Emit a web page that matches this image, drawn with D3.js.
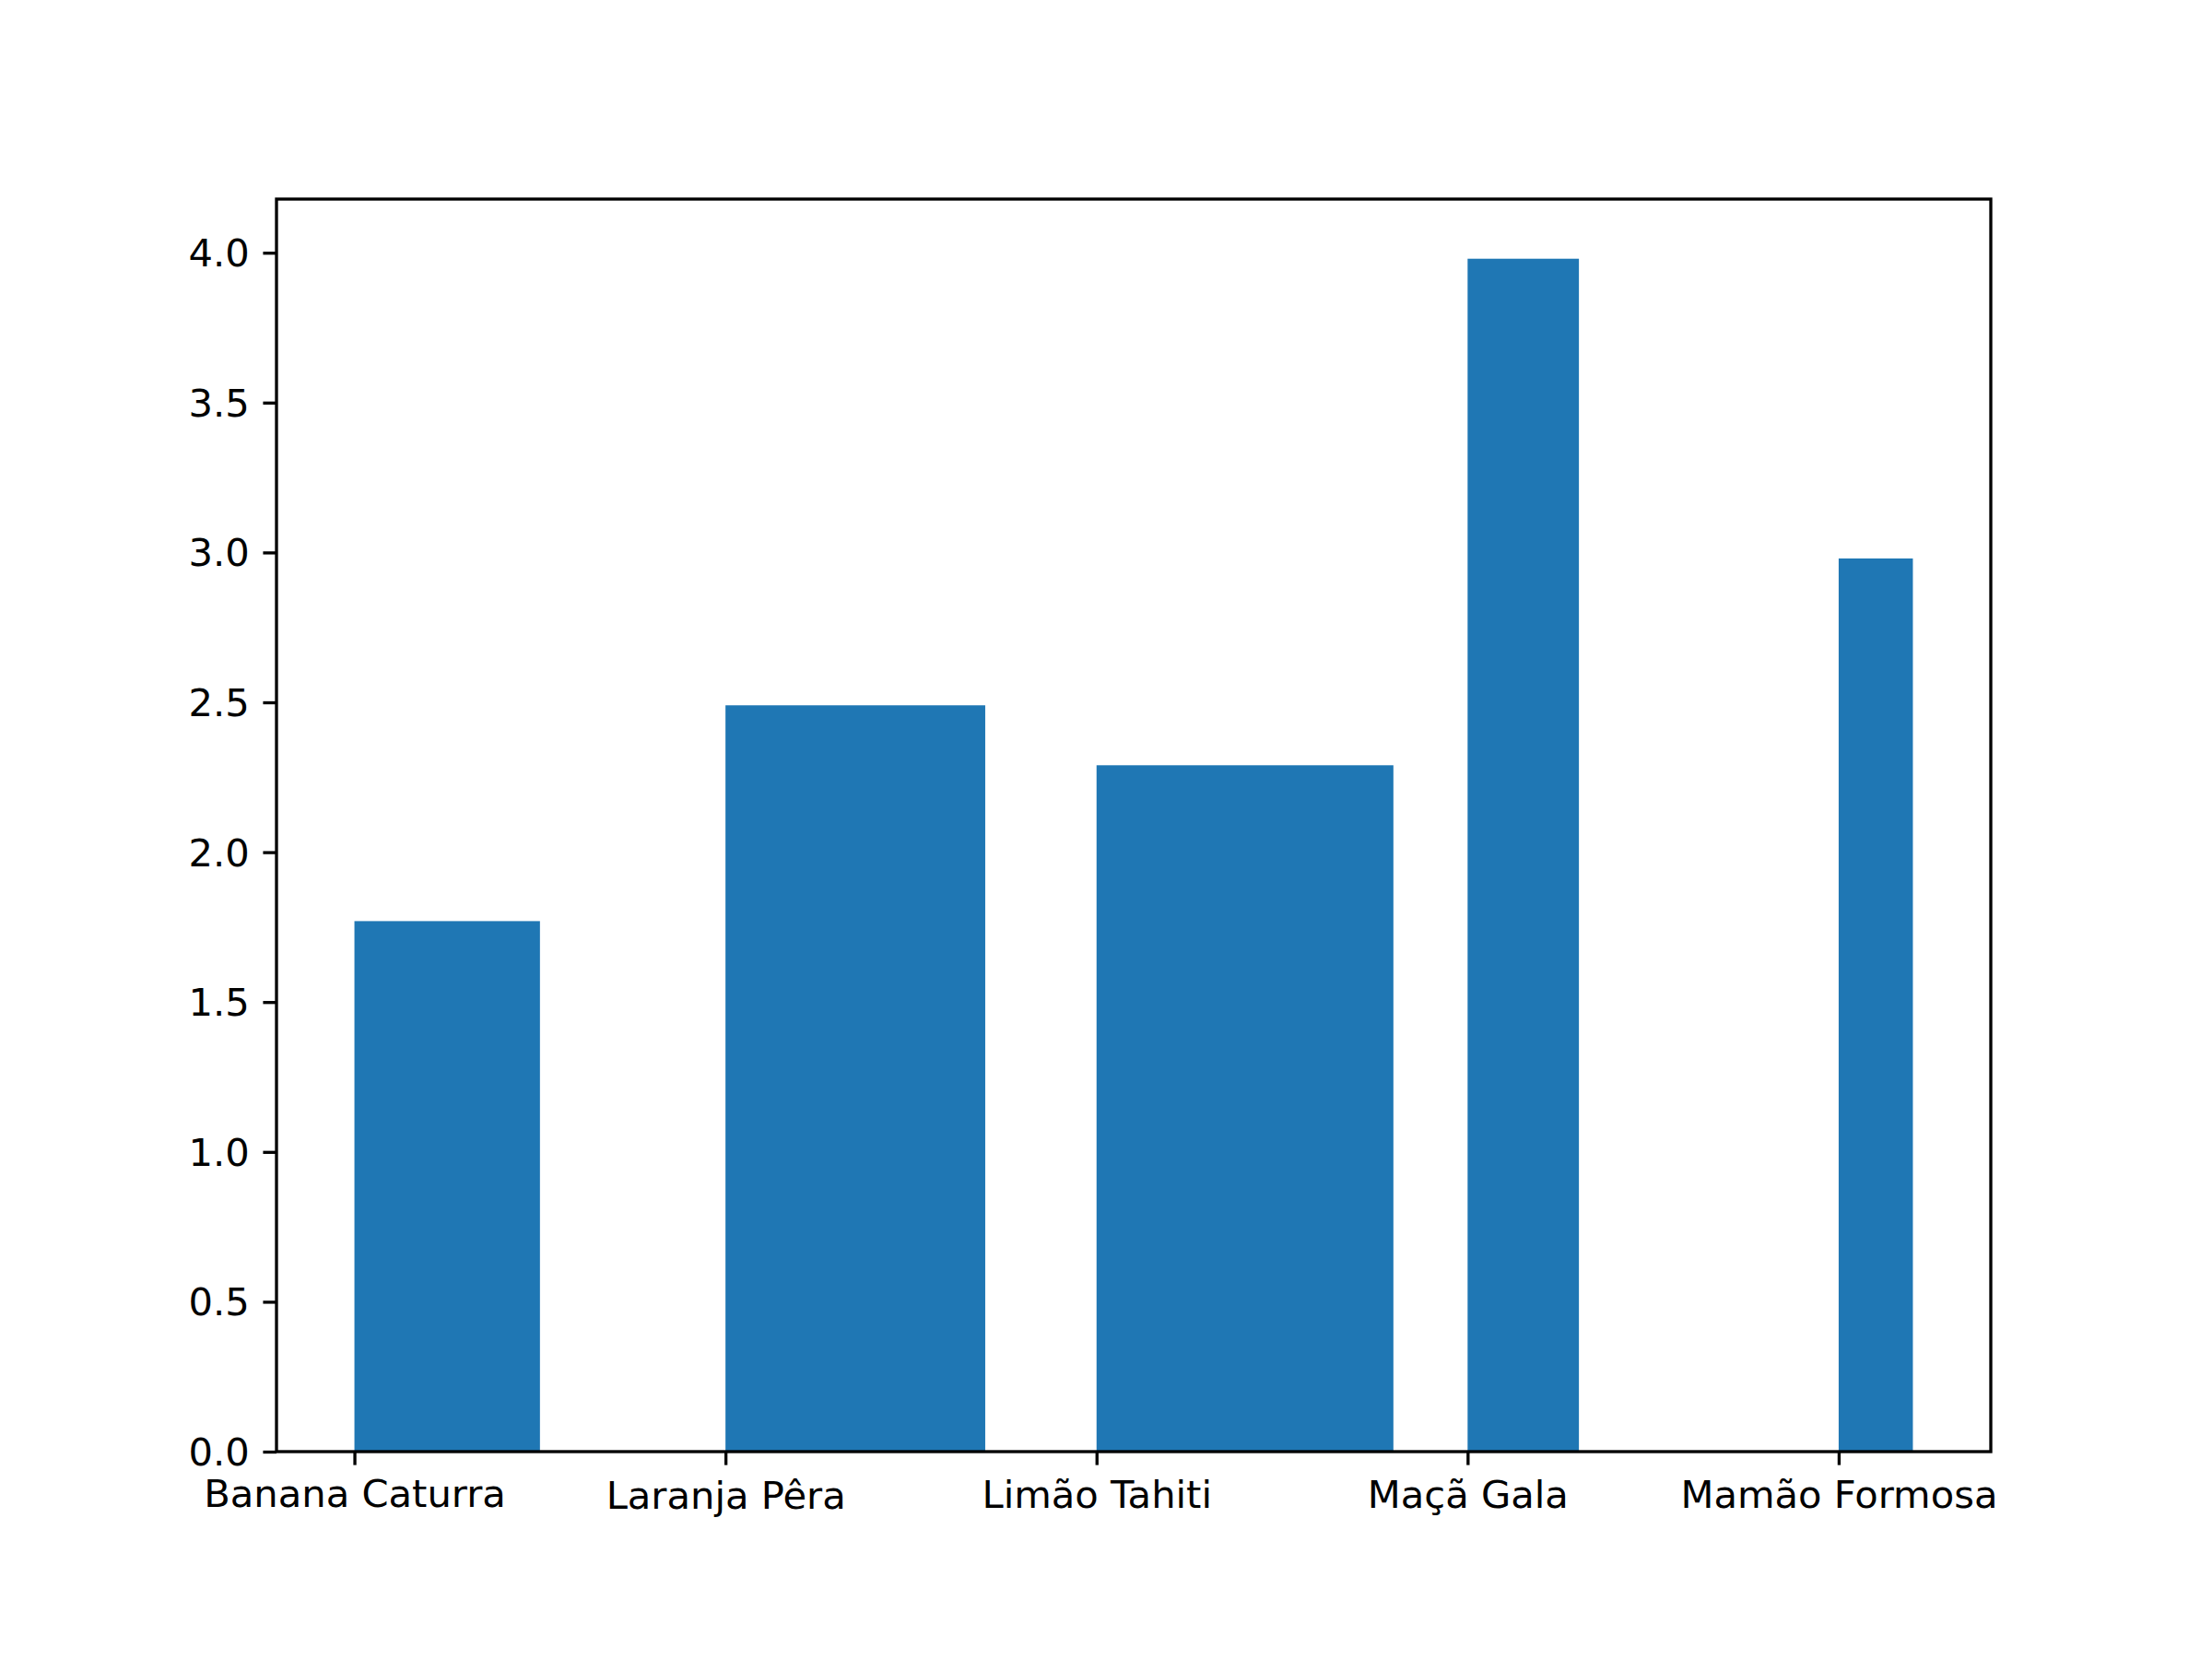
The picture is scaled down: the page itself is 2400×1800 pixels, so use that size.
<!DOCTYPE html>
<html>
<head>
<meta charset="utf-8">
<script src="https://cdn.jsdelivr.net/npm/d3@7"></script>
<style>
  html, body { margin: 0; padding: 0; background: #ffffff; }
  svg { display: block; }
  text { font-family: "DejaVu Sans", sans-serif; }
</style>
</head>
<body>
<svg id="chart" width="2400" height="1800"></svg>
<script>
// ---- data ----
const categories = ["Banana Caturra", "Laranja Pêra", "Limão Tahiti", "Maçã Gala", "Mamão Formosa"];
const values = [1.77, 2.49, 2.29, 3.98, 2.98];
const barWidths = [0.5, 0.7, 0.8, 0.3, 0.2];
const yTickValues = [0, 0.5, 1.0, 1.5, 2.0, 2.5, 3.0, 3.5, 4.0];

(function () {
  // ---- layout ----
  const W = 2400, H = 1800;
  const axLeft = 300, axRight = 2160, axTop = 216, axBottom = 1575;
  const pt = 300 / 72;
  const fontSize = 10 * pt;
  const tickLen = 3.5 * pt, tickPad = 3.5 * pt, lw = 0.8 * pt;
  const color = "#1f77b4";

  const idx = categories.map((d, i) => i);
  const xMin = d3.min(idx), xMax = d3.max(idx, i => i + barWidths[i]);
  const xm = (xMax - xMin) * 0.05;
  const x = d3.scaleLinear().domain([xMin - xm, xMax + xm]).range([axLeft, axRight]);
  const yMax = d3.max(values) * 1.05;
  const y = d3.scaleLinear().domain([0, yMax]).range([axBottom, axTop]);

  const svg = d3.select("#chart");
  svg.append("rect").attr("width", W).attr("height", H).attr("fill", "#fff");

  // bars (align edge)
  svg.append("g").selectAll("rect").data(values).join("rect")
    .attr("x", (d, i) => x(i))
    .attr("width", (d, i) => x(i + barWidths[i]) - x(i))
    .attr("y", d => y(d))
    .attr("height", d => y(0) - y(d))
    .attr("fill", color);

  // spines
  svg.append("rect")
    .attr("x", axLeft).attr("y", axTop)
    .attr("width", axRight - axLeft).attr("height", axBottom - axTop)
    .attr("fill", "none").attr("stroke", "#000").attr("stroke-width", lw)
    .attr("stroke-linejoin", "miter");

  // text metric helper (mimic matplotlib top alignment)
  const ctx = document.createElement("canvas").getContext("2d");
  ctx.font = fontSize + "px 'DejaVu Sans'";
  const lpAsc = ctx.measureText("lp").actualBoundingBoxAscent || 0.76 * fontSize;
  function asc(t) {
    const a = ctx.measureText(t).actualBoundingBoxAscent || 0;
    return Math.max(lpAsc, a);
  }

  // x axis
  const xAxis = d3.axisBottom(x)
    .tickValues(idx)
    .tickFormat(i => categories[i])
    .tickSize(tickLen)
    .tickPadding(tickPad);
  const gx = svg.append("g").attr("transform", `translate(0,${axBottom})`).call(xAxis);
  gx.select(".domain").remove();
  gx.selectAll(".tick line").attr("stroke", "#000").attr("stroke-width", lw);
  gx.selectAll(".tick text")
    .attr("fill", "#000")
    .attr("font-size", fontSize)
    .attr("font-family", "DejaVu Sans")
    .attr("dy", null)
    .attr("y", i => tickLen + tickPad + asc(categories[i]));

  // y axis
  const yAxis = d3.axisLeft(y)
    .tickValues(yTickValues)
    .tickFormat(d3.format(".1f"))
    .tickSize(tickLen)
    .tickPadding(tickPad);
  const gy = svg.append("g").attr("transform", `translate(${axLeft},0)`).call(yAxis);
  gy.select(".domain").remove();
  gy.selectAll(".tick line").attr("stroke", "#000").attr("stroke-width", lw);
  gy.selectAll(".tick text")
    .attr("fill", "#000")
    .attr("font-size", fontSize)
    .attr("font-family", "DejaVu Sans")
    .attr("dy", null)
    .attr("y", lpAsc / 2 - 1);
})();
</script>
</body>
</html>
